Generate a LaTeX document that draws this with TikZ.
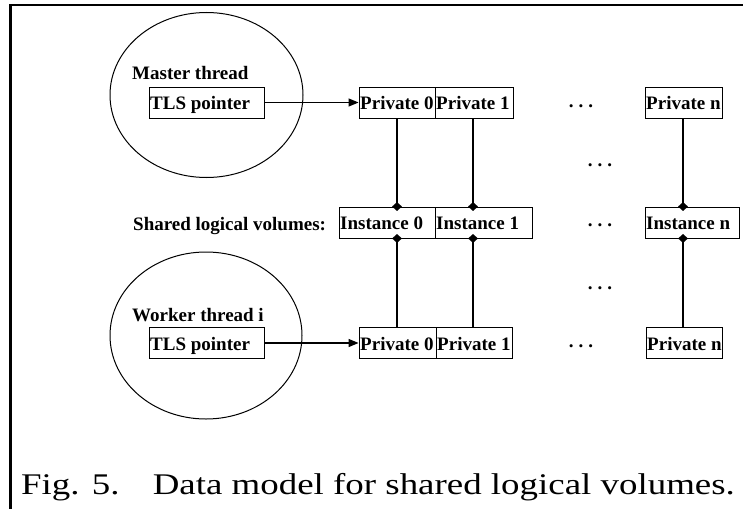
\documentclass[tikz,border=0pt]{standalone}
\usepackage{fontspec}
\setmainfont{Liberation Serif}
\usetikzlibrary{shapes.geometric,arrows.meta}
\newcommand{\fixw}[2]{\makebox[#1][l]{#2}}
\tikzset{
  box/.style={draw, line width=0.9pt, minimum height=31pt, inner xsep=1.2pt, inner ysep=0pt,
    text height=16pt, text depth=2pt,
    font=\bfseries\fontsize{19}{19}\selectfont},
  lbl/.style={inner sep=0pt, font=\bfseries\fontsize{19}{19}\selectfont},
  dots/.style={inner sep=0pt, font=\bfseries\fontsize{19}{19}\selectfont},
  thread/.style={draw, ellipse, line width=1pt, inner sep=0pt},
  link/.style={line width=1.2pt},
  ptr/.style={line width=1.2pt, -{Triangle[length=10pt,width=8pt]}},
  dia/.style={diamond, fill=black, draw=none, inner sep=0pt, minimum width=10pt, minimum height=9pt},
  frame/.style={line width=2.6pt}
}
\begin{document}
\begin{tikzpicture}[x=1pt,y=-1pt]
\useasboundingbox[fill=white] (0,0) rectangle (743,508);
% frame
\coordinate (fa) at (10.3,510);
\coordinate (fb) at (10.3,5);
\coordinate (fc) at (745,5);
\draw[frame] (fa) -- (fb) -- (fc);

% threads
\node[thread, minimum width=193pt, minimum height=165pt] (mt) at (206.5,95) {};
\node[thread, minimum width=192pt, minimum height=167pt] (wt) at (206,335.5) {};
\node[lbl, anchor=base west] (mtl) at (132,80) {Master thread};
\node[lbl, anchor=base west] (wtl) at (132,321) {Worker thread i};
\node[lbl, anchor=base west] (sl) at (133,230) {Shared logical volumes:};

% top row
\node[box] (tls1) at (206.5,102.5) {\fixw{112.6pt}{TLS pointer}};
\node[box] (p0) at (397,102.5) {\fixw{73.6pt}{Private 0}};
\node[box] (p1) at (474,102.5) {\fixw{75.6pt}{Private 1}};
\node[box] (pn) at (683.5,102.5) {\fixw{74.6pt}{Private n}};

% instance row
\node[box] (i0) at (387,222.5) {\fixw{93.6pt}{Instance 0}};
\node[box] (i1) at (483.5,222.5) {\fixw{94.6pt}{Instance 1}};
\node[box] (in) at (692,222.5) {\fixw{91.6pt}{Instance n}};

% bottom row
\node[box] (tls2) at (206.5,343) {\fixw{112.6pt}{TLS pointer}};
\node[box] (q0) at (397.5,343) {\fixw{74.6pt}{Private 0}};
\node[box] (q1) at (474,343) {\fixw{73.6pt}{Private 1}};
\node[box] (qn) at (684,343) {\fixw{73.6pt}{Private n}};

% dots
\node[dots] (d1) at (581,106) {.\hspace{5pt}.\hspace{5pt}.};
\node[dots] (d2) at (600,165) {.\hspace{5pt}.\hspace{5pt}.};
\node[dots] (d3) at (600,225) {.\hspace{5pt}.\hspace{5pt}.};
\node[dots] (d4) at (600,288) {.\hspace{5pt}.\hspace{5pt}.};
\node[dots] (d5) at (581,346) {.\hspace{5pt}.\hspace{5pt}.};

% pointers
\draw[ptr] (tls1.east) -- (p0.west);
\draw[ptr] (tls2.east) -- (q0.west);

% links
\coordinate (a0) at (p0.south -| 397,0);
\coordinate (a1) at (p1.south -| 473,0);
\coordinate (an) at (pn.south -| 683,0);
\coordinate (b0) at (i0.north -| 397,0);
\coordinate (b1) at (i1.north -| 473,0);
\coordinate (bn) at (in.north -| 683,0);
\coordinate (c0) at (i0.south -| 397,0);
\coordinate (c1) at (i1.south -| 473,0);
\coordinate (cn) at (in.south -| 683,0);
\coordinate (e0) at (q0.north -| 397,0);
\coordinate (e1) at (q1.north -| 473,0);
\coordinate (en) at (qn.north -| 683,0);
\draw[link] (a0) -- (b0);
\draw[link] (a1) -- (b1);
\draw[link] (an) -- (bn);
\draw[link] (c0) -- (e0);
\draw[link] (c1) -- (e1);
\draw[link] (cn) -- (en);
\foreach \p in {b0,b1,bn,c0,c1,cn} \node[dia] at (\p) {};

% caption
\node[inner sep=0pt, anchor=base west, font=\fontsize{30}{30}\selectfont] (cap) at (21,494)
  {\scalebox{1.23}[1]{Fig. 5.\hspace{27pt}Data model for shared logical volumes.}};
\end{tikzpicture}
\end{document}
